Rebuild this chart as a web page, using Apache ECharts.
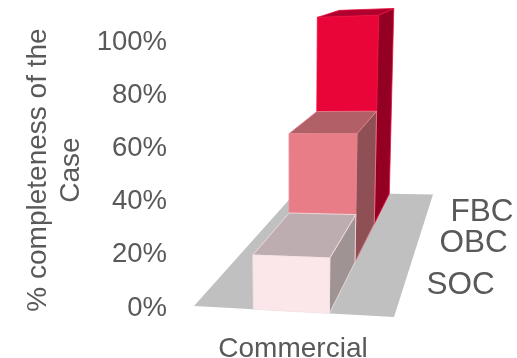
<!DOCTYPE html>
<html>
<head>
<meta charset="utf-8">
<style>html,body{margin:0;padding:0;background:#fff}#chart{width:517px;height:358px}</style>
<script src="https://cdn.jsdelivr.net/npm/echarts@6/dist/echarts.min.js"></script>
</head>
<body>
<div id="chart"></div>
<script>
// Business case stages, listed from the front of the floor to the back
const categories = ['Commercial'];
const stages = ['SOC', 'OBC', 'FBC'];
const completeness = [20, 54, 100];
const tickValues = [0, 20, 40, 60, 80, 100];

const FONT = '"Liberation Sans", Arial, sans-serif';
const TEXT = '#595959';

const faceColours = {
  SOC: { front: '#fbe6e9', top: '#bdadb1', side: '#a09393', edge: '#f6e3e6' },
  OBC: { front: '#e97d87', top: '#b26068', side: '#8e5055', edge: '#e58690' },
  FBC: { front: '#ea0539', top: '#b0002e', side: '#930024', edge: '#e9103f' }
};

// Floor outline around the axis origin: front-left, front-right, back-right, back-left
const floorOutline = [[-99, -2], [101, 9], [140, -113.5], [3, -116]];
const barSpan = [0.31, 0.69];
const lean = 2.5e-4;
// Stage label offsets from the floor's right edge
const stageLabelOffset = { SOC: [23.5, -3], OBC: [22, 0], FBC: [22, 3] };

// Projective map from the unit floor square to offsets around the origin
function makeProjection(q) {
  const [p0, p1, p2, p3] = q;
  const dx1 = p1[0] - p2[0], dx2 = p3[0] - p2[0], sx = p0[0] - p1[0] + p2[0] - p3[0];
  const dy1 = p1[1] - p2[1], dy2 = p3[1] - p2[1], sy = p0[1] - p1[1] + p2[1] - p3[1];
  const den = dx1 * dy2 - dx2 * dy1;
  const g = (sx * dy2 - dx2 * sy) / den;
  const h = (dx1 * sy - sx * dy1) / den;
  const a = p1[0] - p0[0] + g * p1[0], b = p3[0] - p0[0] + h * p3[0], c = p0[0];
  const d = p1[1] - p0[1] + g * p1[1], e = p3[1] - p0[1] + h * p3[1], f = p0[1];
  return function (u, v, rise) {
    const w = g * u + h * v + 1;
    const x = (a * u + b * v + c) / w;
    const y = (d * u + e * v + f) / w;
    const lift = rise / w;
    return [x + x * lift * lean, y - lift];
  };
}
const project = makeProjection(floorOutline);

function renderFloor(params, api) {
  const o = api.coord([0, 0]);
  const points = [[0, 0], [1, 0], [1, 1], [0, 1]].map(function (p) {
    const q = project(p[0], p[1], 0);
    return [o[0] + q[0], o[1] + q[1]];
  });
  return { type: 'polygon', shape: { points: points }, style: { fill: '#c0c0c0' } };
}

function renderBar(params, api) {
  const idx = api.value(2);
  const stage = stages[idx];
  const o = api.coord([api.value(0), 0]);
  const rise = o[1] - api.coord([api.value(0), api.value(1)])[1];
  const v0 = idx / stages.length, v1 = (idx + 1) / stages.length;
  const pt = function (u, v, r) {
    const q = project(u, v, r);
    return [o[0] + q[0], o[1] + q[1]];
  };
  const uL = barSpan[0], uR = barSpan[1];
  const c = faceColours[stage];
  const face = function (points, fill) {
    return {
      type: 'polygon',
      shape: { points: points },
      style: { fill: fill, stroke: c.edge, lineWidth: 0.8, lineJoin: 'round' }
    };
  };
  const labelAt = pt(1, (v0 + v1) / 2, 0);
  const off = stageLabelOffset[stage];
  return {
    type: 'group',
    children: [
      face([pt(uR, v0, 0), pt(uR, v1, 0), pt(uR, v1, rise), pt(uR, v0, rise)], c.side),
      face([pt(uL, v0, rise), pt(uR, v0, rise), pt(uR, v1, rise), pt(uL, v1, rise)], c.top),
      face([pt(uL, v0, 0), pt(uR, v0, 0), pt(uR, v0, rise), pt(uL, v0, rise)], c.front),
      {
        type: 'text',
        style: {
          text: stage,
          x: labelAt[0] + off[0],
          y: labelAt[1] + off[1],
          fill: TEXT,
          font: '31.5px ' + FONT,
          textAlign: 'left',
          textVerticalAlign: 'middle'
        }
      }
    ]
  };
}

// Back row first so nearer bars paint over it
const barData = stages.map(function (s, i) {
  return [0, completeness[i], i];
}).reverse();

const chart = echarts.init(document.getElementById('chart'), null, { renderer: 'canvas' });
chart.setOption({
  animation: false,
  backgroundColor: '#ffffff',
  grid: { left: 170, right: 101, top: 42, bottom: 50, outerBoundsMode: 'none' },
  xAxis: {
    type: 'category',
    data: categories,
    axisLine: { show: false },
    axisTick: { show: false },
    axisLabel: { color: TEXT, fontFamily: FONT, fontSize: 28, margin: 27 }
  },
  yAxis: {
    type: 'value',
    min: tickValues[0],
    max: tickValues[tickValues.length - 1],
    interval: 20,
    splitLine: { show: false },
    axisLine: { show: false },
    axisTick: { show: false },
    axisLabel: {
      color: TEXT, fontFamily: FONT, fontSize: 27.5, margin: 3,
      formatter: '{value}%'
    },
    name: '% completeness of the\nCase',
    nameLocation: 'middle',
    nameGap: 82,
    nameTextStyle: { color: TEXT, fontFamily: FONT, fontSize: 28, lineHeight: 33, padding: [0, 0, 0, 10] }
  },
  series: [
    {
      type: 'custom',
      renderItem: renderFloor,
      data: [[0, 0]],
      clip: false,
      silent: true,
      z: 1
    },
    {
      type: 'custom',
      renderItem: renderBar,
      data: barData,
      encode: { x: 0, y: 1 },
      clip: false,
      silent: true,
      z: 2
    }
  ]
});
</script>
</body>
</html>
